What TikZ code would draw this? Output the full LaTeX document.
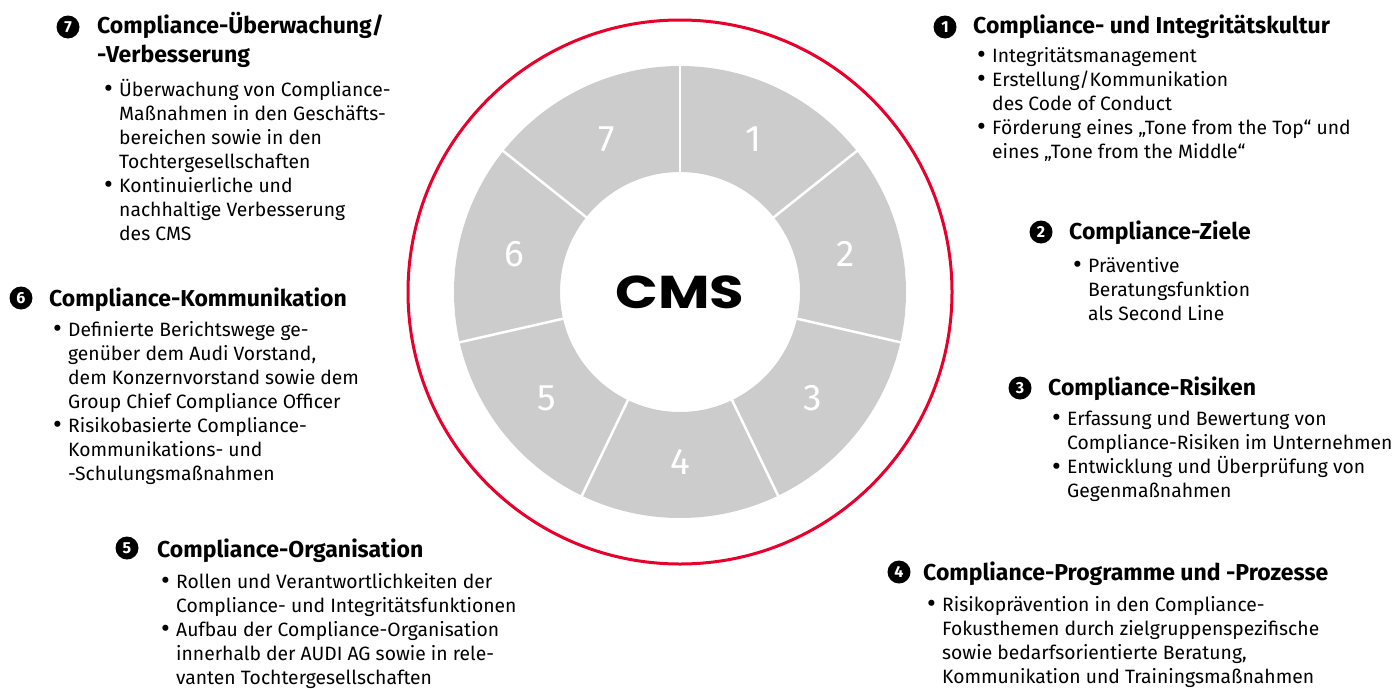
\documentclass[tikz,border=0pt]{standalone}
\usepackage{fontspec}
\setmainfont{Fira Sans}
\newfontfamily\cmsfont{Poppins}
\usetikzlibrary{positioning}

\definecolor{audired}{RGB}{232,0,45}
\definecolor{ringgray}{RGB}{204,204,204}
\newcommand{\bodyfont}{\fontsize{19.3}{24}\selectfont}
\newcommand{\headfont}{\fontsize{23}{29}\selectfont\bfseries}
\newcommand{\markfont}{\fontsize{16}{16}\selectfont\bfseries}
\newcommand{\segfont}{\fontsize{37}{37}\selectfont}
\newcommand{\bi}{\makebox[15pt][l]{\raisebox{-1.8pt}{\scalebox{1.4}{\textbullet}}}}

\begin{document}
\begin{tikzpicture}[
    x=1pt, y=-1pt,
    marker/.style={circle, fill=black, text=white, inner sep=0pt, minimum size=23pt, font=\markfont},
    head/.style={anchor=base west, inner sep=0pt, font=\headfont},
    body/.style={anchor=base west, inner sep=0pt, font=\bodyfont},
    segnum/.style={text=white, inner sep=0pt, font=\segfont},
    ring/.style={audired, line width=3pt}
]
\useasboundingbox (0,0) rectangle (1394,688);

% CMS wheel
\begin{scope}[shift={(680,292)}, yscale=-1]
\fill[ringgray, even odd rule] (0,0) circle[radius=226] (0,0) circle[radius=120];
\foreach \i in {0,...,6} {
    \pgfmathtruncatemacro\seg{\i+1}
    \draw[white, line width=2.5pt] (90-\i*360/7:118) -- (90-\i*360/7:228);
    \node[segnum] (s\seg) at (90-\i*360/7-180/7:170) {\seg};
}
\draw[ring] (0,0) circle[radius=272];
\node[font=\cmsfont\bfseries\fontsize{46}{46}\selectfont] (cms) at (0,0) {\scalebox{1.22}[1]{CMS}};
\end{scope}

% 1
\node[marker] (m1) at (945,27) {1};
\node[head] (h1) at (973,33) {Compliance- und Integritätskultur};
\node[body] (b1) at (977,62) {\begin{tabular}[t]{@{}l@{}l@{}}
\bi & Integritätsmanagement\\
\bi & Erstellung/Kommunikation\\
    & des Code of Conduct\\
\bi & Förderung eines „Tone from the Top“ und\\
    & eines „Tone from the Middle“
\end{tabular}};

% 2
\node[marker] (m2) at (1041,232) {2};
\node[head] (h2) at (1069,239) {Compliance-Ziele};
\node[body] (b2) at (1073,272) {\begin{tabular}[t]{@{}l@{}l@{}}
\bi & Präventive\\
    & Beratungsfunktion\\
    & als Second Line
\end{tabular}};

% 3
\node[marker] (m3) at (1020,388) {3};
\node[head] (h3) at (1048,395) {Compliance-Risiken};
\node[body] (b3) at (1052,425) {\begin{tabular}[t]{@{}l@{}l@{}}
\bi & Erfassung und Bewertung von\\
    & Compliance-Risiken im Unternehmen\\
\bi & Entwicklung und Überprüfung von\\
    & Gegenmaßnahmen
\end{tabular}};

% 4
\node[marker] (m4) at (899,572) {4};
\node[head] (h4) at (923,580) {Compliance-Programme und -Prozesse};
\node[body] (b4) at (927,611) {\begin{tabular}[t]{@{}l@{}l@{}}
\bi & Risikoprävention in den Compliance-\\
    & Fokusthemen durch zielgruppenspezifische\\
    & sowie bedarfsorientierte Beratung,\\
    & Kommunikation und Trainingsmaßnahmen
\end{tabular}};

% 5
\node[marker] (m5) at (127,548) {5};
\node[head] (h5) at (157,557) {Compliance-Organisation};
\node[body] (b5) at (161,588) {\begin{tabular}[t]{@{}l@{}l@{}}
\bi & Rollen und Verantwortlichkeiten der\\
    & Compliance- und Integritätsfunktionen\\
\bi & Aufbau der Compliance-Organisation\\
    & innerhalb der AUDI AG sowie in rele-\\
    & vanten Tochtergesellschaften
\end{tabular}};

% 6
\node[marker] (m6) at (21,298) {6};
\node[head] (h6) at (49,306) {Compliance-Kommunikation};
\node[body] (b6) at (53,336) {\begin{tabular}[t]{@{}l@{}l@{}}
\bi & Definierte Berichtswege ge-\\
    & genüber dem Audi Vorstand,\\
    & dem Konzernvorstand sowie dem\\
    & Group Chief Compliance Officer\\
\bi & Risikobasierte Compliance-\\
    & Kommunikations- und\\
    & -Schulungsmaßnahmen
\end{tabular}};

% 7
\node[marker] (m7) at (68,27) {7};
\node[head] (h7) at (97,33) {\begin{tabular}[t]{@{}l@{}}
Compliance-Überwachung/\\
-Verbesserung
\end{tabular}};
\node[body] (b7) at (104,96) {\begin{tabular}[t]{@{}l@{}l@{}}
\bi & Überwachung von Compliance-\\
    & Maßnahmen in den Geschäfts-\\
    & bereichen sowie in den\\
    & Tochtergesellschaften\\
\bi & Kontinuierliche und\\
    & nachhaltige Verbesserung\\
    & des CMS
\end{tabular}};
\end{tikzpicture}
\end{document}
